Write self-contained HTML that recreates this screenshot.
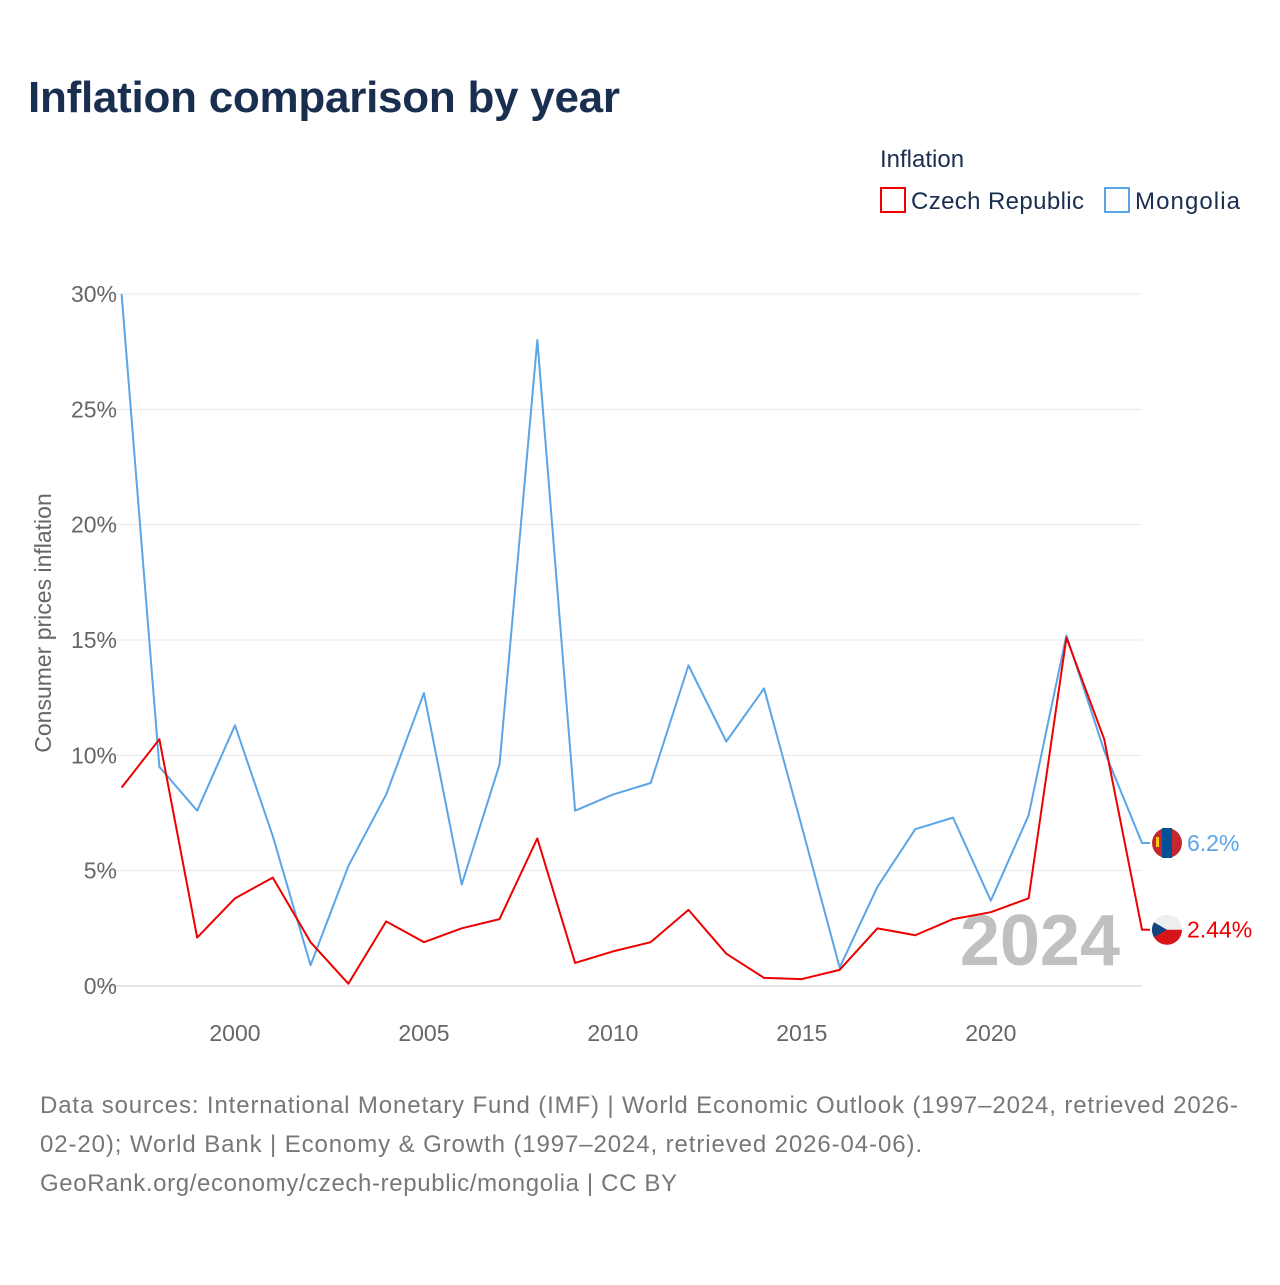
<!DOCTYPE html>
<html><head><meta charset="utf-8"><style>
body{margin:0;background:#fff;font-family:"Liberation Sans",sans-serif;}
svg text{font-family:"Liberation Sans",sans-serif;}
</style></head><body>
<svg width="1280" height="1280">
<text x="28" y="112" font-size="44" font-weight="bold" fill="#1a2e4f" textLength="592">Inflation comparison by year</text>
<text x="880" y="167" font-size="24" fill="#1a2e4f">Inflation</text>
<g><rect x="881" y="188" width="24" height="24" fill="none" stroke="#ee0000" stroke-width="2"/><text x="911" y="209" font-size="24" fill="#1a2e4f" textLength="173">Czech Republic</text></g>
<g><rect x="1105" y="188" width="24" height="24" fill="none" stroke="#5aa5e8" stroke-width="2"/><text x="1135" y="209" font-size="24" fill="#1a2e4f" textLength="105">Mongolia</text></g>
<g id="grid"></g><g id="ylab"></g><g id="xlab"></g>
<text transform="translate(51,623) rotate(-90)" text-anchor="middle" font-size="23" fill="#666">Consumer prices inflation</text>
<text x="1120" y="965" text-anchor="end" font-size="72" font-weight="bold" fill="#c0c0c0">2024</text>
<g id="series"></g>
<text x="40" y="1113" font-size="24" fill="#777" textLength="1198">Data sources: International Monetary Fund (IMF) | World Economic Outlook (1997–2024, retrieved 2026-</text>
<text x="40" y="1152" font-size="24" fill="#777" textLength="882">02-20); World Bank | Economy &amp; Growth (1997–2024, retrieved 2026-04-06).</text>
<text x="40" y="1191" font-size="24" fill="#777" textLength="637">GeoRank.org/economy/czech-republic/mongolia | CC BY</text>
</svg>
<script>
const years=[1997,1998,1999,2000,2001,2002,2003,2004,2005,2006,2007,2008,2009,2010,2011,2012,2013,2014,2015,2016,2017,2018,2019,2020,2021,2022,2023,2024];
const czech=[8.6,10.7,2.1,3.8,4.7,1.9,0.1,2.8,1.9,2.5,2.9,6.4,1.0,1.5,1.9,3.3,1.4,0.35,0.3,0.7,2.5,2.2,2.9,3.2,3.8,15.1,10.7,2.44];
const mongolia=[30,9.5,7.6,11.3,6.5,0.9,5.2,8.3,12.7,4.4,9.6,28.0,7.6,8.3,8.8,13.9,10.6,12.9,6.9,0.8,4.3,6.8,7.3,3.7,7.4,15.2,10.2,6.2];
const yTicks=[0,5,10,15,20,25,30];
const xTicks=[2000,2005,2010,2015,2020];
const NS='http://www.w3.org/2000/svg';
const x=v=>121.6+(v-1997)*(1142-121.6)/27;
const y=v=>986-v*(986-294)/30;
function mk(t,a,p){const e=document.createElementNS(NS,t);for(const k in a)e.setAttribute(k,a[k]);p.appendChild(e);return e;}
const grid=document.getElementById('grid'),yl=document.getElementById('ylab'),xl=document.getElementById('xlab'),s=document.getElementById('series');
yTicks.forEach(t=>{
 const l=mk('line',{x1:100,x2:1142,y1:y(t),y2:y(t),stroke:t==0?'#ccc':'#e8e8e8','stroke-width':1},grid);
 
 
 const tx=mk('text',{x:117,y:y(t)+8,'text-anchor':'end','font-size':23,fill:'#666'},yl);tx.textContent=t+'%';
 
 
});
xTicks.forEach(t=>{
 const tx=mk('text',{x:x(t),y:1041,'text-anchor':'middle','font-size':23,fill:'#666'},xl);tx.textContent=t;
 
 
});
function draw(d,col,name,flag){
 let pts=d.map((v,i)=>x(years[i])+','+y(v));
 const last=y(d[d.length-1]);
 pts.push('1150,'+last);
 const p=mk('polyline',{points:pts.join(' '),fill:'none',stroke:col,'stroke-width':2,'stroke-linejoin':'round'},s);
 
 
 const g=mk('g',{},s);
 
 
 const cx=1167;
 if(flag=='mn'){
  mk('circle',{cx:cx,cy:last,r:15,fill:'#c4272f'},g);
  mk('rect',{x:cx-5,y:last-15,width:10,height:30,fill:'#015197'},g);
  mk('rect',{x:cx-11,y:last-6,width:3,height:10,fill:'#f9cf02'},g);
 }else{
  mk('circle',{cx:cx,cy:last,r:15,fill:'#eee'},g);
  mk('path',{d:`M${cx-15},${last} L${cx+15},${last} A15,15 0 0 1 ${cx-15},${last}Z`,fill:'#d7141a'},g);
  mk('path',{d:`M${cx-13},${last-7.5} L${cx},${last} L${cx-13},${last+7.5} A15,15 0 0 1 ${cx-13},${last-7.5}Z`,fill:'#11457e'},g);
 }
 const t=mk('text',{x:1187,y:last+8,'font-size':23,fill:col},s);t.textContent=d[d.length-1]+'%';
 
 
}
draw(mongolia,'#5aa5e8','mongolia','mn');
draw(czech,'#ee0000','czech','cz');
</script>
</body></html>
